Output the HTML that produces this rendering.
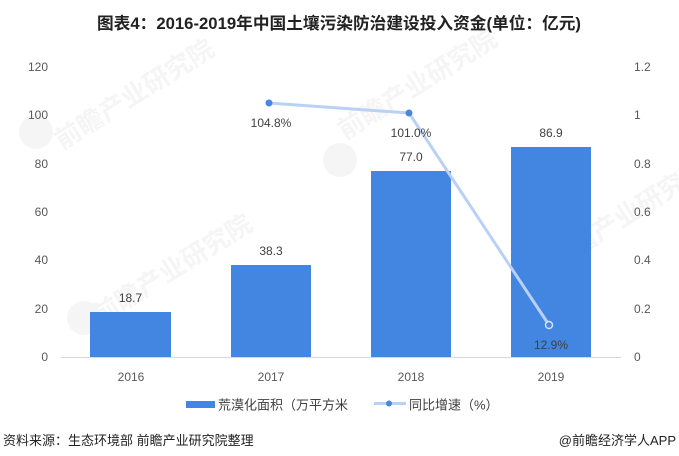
<!DOCTYPE html>
<html><head><meta charset="utf-8"><style>
html,body{margin:0;padding:0;background:#fff;}
svg{display:block;}
text{font-family:"Liberation Sans","Noto Sans CJK SC",sans-serif;}
</style></head><body>
<svg width="679" height="456" viewBox="0 0 679 456" xmlns="http://www.w3.org/2000/svg">
<rect width="679" height="456" fill="#fff"/>
<!-- watermarks -->
<g fill="#f5f5f5" font-size="26" font-weight="bold">
<text transform="translate(62,150) rotate(-32)">前瞻产业研究院</text>
<text transform="translate(100,325) rotate(-32)">前瞻产业研究院</text>
<text transform="translate(345,140) rotate(-32)">前瞻产业研究院</text>
<text transform="translate(555,270) rotate(-32)">前瞻产业研究院</text>
<circle cx="36" cy="132" r="17"/>
<circle cx="84" cy="318" r="17"/>
<circle cx="340" cy="160" r="17"/>
</g>
<!-- axis -->
<line x1="61" y1="357.5" x2="621" y2="357.5" stroke="#d9d9d9" stroke-width="1"/>
<!-- left ticks -->
<g font-size="12" fill="#595959" text-anchor="end">
<text x="48" y="361">0</text>
<text x="48" y="313">20</text>
<text x="48" y="264">40</text>
<text x="48" y="216">60</text>
<text x="48" y="168">80</text>
<text x="48" y="119">100</text>
<text x="48" y="71">120</text>
</g>
<g font-size="12" fill="#595959" text-anchor="start">
<text x="634" y="361">0</text>
<text x="634" y="313">0.2</text>
<text x="634" y="264">0.4</text>
<text x="634" y="216">0.6</text>
<text x="634" y="168">0.8</text>
<text x="634" y="119">1</text>
<text x="634" y="71">1.2</text>
</g>
<!-- bars -->
<g fill="#4286e1">
<rect x="90" y="312" width="81" height="45"/>
<rect x="231" y="265" width="80" height="92"/>
<rect x="371" y="171" width="80" height="186"/>
<rect x="511" y="147" width="80" height="210"/>
</g>
<!-- bar labels -->
<g font-size="12" fill="#404040" text-anchor="middle">
<text x="130.5" y="302">18.7</text>
<text x="271" y="255">38.3</text>
<text x="411" y="161">77.0</text>
<text x="551" y="137">86.9</text>
</g>
<!-- line -->
<polyline points="269,103 409,113 549,325" fill="none" stroke="#b9d1f5" stroke-width="3" stroke-linejoin="round"/>
<circle cx="269" cy="103" r="3.5" fill="#4a86e0"/>
<circle cx="409" cy="113" r="3.5" fill="#4a86e0"/>
<circle cx="549" cy="325" r="3.5" fill="#4a86e0" stroke="#d3e3f8" stroke-width="1.5"/>
<g font-size="12" fill="#404040" text-anchor="middle">
<text x="271" y="127">104.8%</text>
<text x="411" y="137">101.0%</text>
<text x="551" y="349">12.9%</text>
</g>
<!-- x labels -->
<g font-size="12" fill="#595959" text-anchor="middle">
<text x="131" y="381">2016</text>
<text x="271" y="381">2017</text>
<text x="411" y="381">2018</text>
<text x="551" y="381">2019</text>
</g>
<!-- legend -->
<rect x="186" y="401" width="29" height="7" fill="#4286e1"/>
<text x="218" y="409.5" font-size="13" fill="#404040">荒漠化面积（万平方米</text>
<line x1="374" y1="403.5" x2="406" y2="403.5" stroke="#b9d1f5" stroke-width="3"/>
<circle cx="389" cy="403.5" r="3" fill="#4a86e0"/>
<text x="409" y="409.5" font-size="13" fill="#404040">同比增速（%）</text>
<!-- title -->
<text x="339" y="29" font-size="16.5" font-weight="bold" fill="#222" text-anchor="middle" textLength="484" lengthAdjust="spacingAndGlyphs">图表4：2016-2019年中国土壤污染防治建设投入资金(单位：亿元)</text>
<!-- source -->
<text x="3" y="445" font-size="13" fill="#222">资料来源：生态环境部 前瞻产业研究院整理</text>
<text x="676" y="445" font-size="13" fill="#222" text-anchor="end">@前瞻经济学人APP</text>
</svg>
</body></html>
